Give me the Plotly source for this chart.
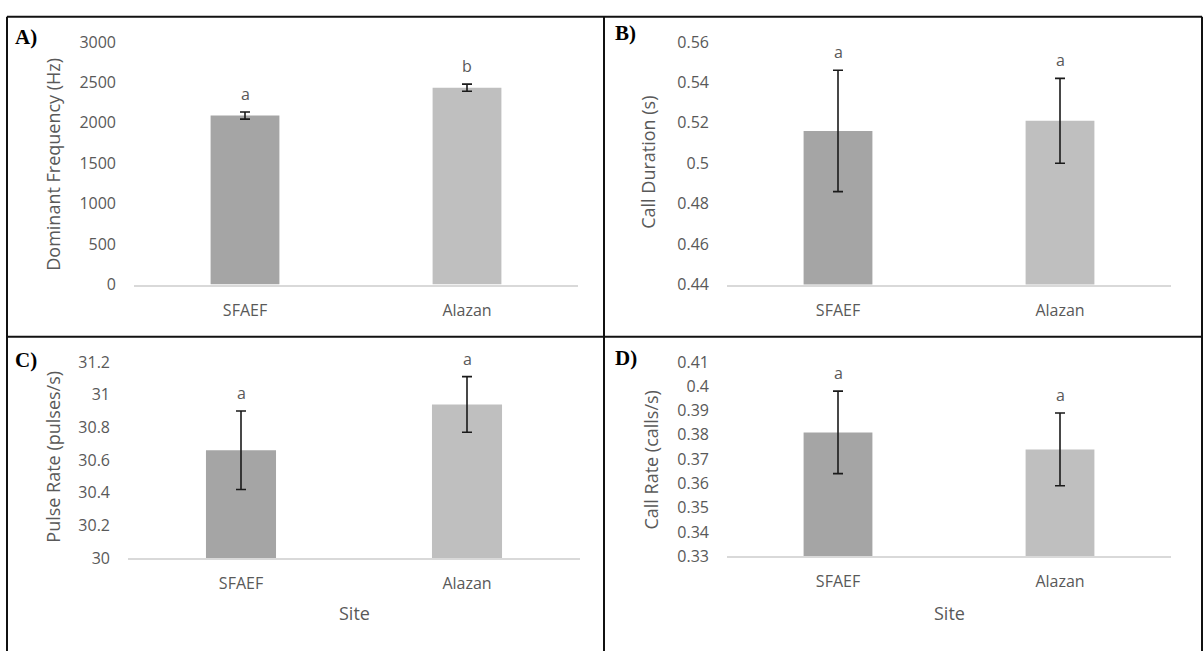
import plotly.graph_objects as go

W, H = 1204, 662

sites = ["SFAEF", "Alazan"]
bar_colors = ["#A5A5A5", "#BFBFBF"]

# Panel A: Dominant Frequency (Hz)
freq_mean = [2090, 2435]
freq_err = [44, 44]
freq_letters = ["a", "b"]
freq_ticks = [0, 500, 1000, 1500, 2000, 2500, 3000]
freq_ticktext = ["0", "500", "1000", "1500", "2000", "2500", "3000"]

# Panel B: Call Duration (s)
dur_mean = [0.516, 0.521]
dur_err = [0.030, 0.021]
dur_letters = ["a", "a"]
dur_ticks = [0.44, 0.46, 0.48, 0.50, 0.52, 0.54, 0.56]
dur_ticktext = ["0.44", "0.46", "0.48", "0.5", "0.52", "0.54", "0.56"]

# Panel C: Pulse Rate (pulses/s)
pulse_mean = [30.66, 30.94]
pulse_err = [0.24, 0.17]
pulse_letters = ["a", "a"]
pulse_ticks = [30.0, 30.2, 30.4, 30.6, 30.8, 31.0, 31.2]
pulse_ticktext = ["30", "30.2", "30.4", "30.6", "30.8", "31", "31.2"]

# Panel D: Call Rate (calls/s)
rate_mean = [0.381, 0.374]
rate_err = [0.017, 0.015]
rate_letters = ["a", "a"]
rate_ticks = [0.33, 0.34, 0.35, 0.36, 0.37, 0.38, 0.39, 0.40, 0.41]
rate_ticktext = ["0.33", "0.34", "0.35", "0.36", "0.37", "0.38", "0.39", "0.4", "0.41"]

panel_labels = ["A)", "B)", "C)", "D)"]
y_titles = ["Dominant Frequency (Hz)", "Call Duration (s)", "Pulse Rate (pulses/s)", "Call Rate (calls/s)"]
x_title = "Site"

TEXT = "#595959"
FONT = "Open Sans"


def px(x):
    return x / W


def py(y):
    return 1 - y / H


# plot-area pixel boxes (left, right, top, bottom)
boxes = [
    (134, 578, 32, 283),
    (727, 1171, 32, 283),
    (128, 580, 363, 566),
    (727, 1171, 363, 564),
]

panels = [
    (freq_mean, freq_err, freq_letters, freq_ticks, freq_ticktext),
    (dur_mean, dur_err, dur_letters, dur_ticks, dur_ticktext),
    (pulse_mean, pulse_err, pulse_letters, pulse_ticks, pulse_ticktext),
    (rate_mean, rate_err, rate_letters, rate_ticks, rate_ticktext),
]

fig = go.Figure()
annotations = []
layout_axes = {}

for i, (means, errs, letters, tv, tt) in enumerate(panels):
    n = i + 1
    xa = "x" if n == 1 else f"x{n}"
    ya = "y" if n == 1 else f"y{n}"
    fig.add_trace(go.Bar(
        x=sites, y=means,
        marker=dict(color=bar_colors, line=dict(width=0)),
        error_y=dict(type="data", array=errs, visible=True, color="#1a1a1a", thickness=1.6, width=5),
        xaxis=xa, yaxis=ya, showlegend=False,
    ))
    l, r, t, b = boxes[i]
    xkey = "xaxis" if n == 1 else f"xaxis{n}"
    ykey = "yaxis" if n == 1 else f"yaxis{n}"
    layout_axes[xkey] = dict(
        domain=[px(l), px(r)], anchor=ya, type="category",
        showline=True, linecolor="#D9D9D9", linewidth=1.5,
        showgrid=False, zeroline=False, ticks="",
        tickfont=dict(family=FONT, size=16, color=TEXT),
        ticklabelstandoff=10,
    )
    layout_axes[ykey] = dict(
        domain=[py(b), py(t)], anchor=xa,
        range=[tv[0], tv[-1]], tickvals=tv, ticktext=tt,
        showline=False, showgrid=False, zeroline=False, ticks="",
        tickfont=dict(family=FONT, size=16, color=TEXT),
        ticklabelstandoff=17,
    )
    for s, m, e, let in zip(sites, means, errs, letters):
        annotations.append(dict(
            x=s, y=m + e, xref=xa, yref=ya, text=let, showarrow=False,
            yanchor="bottom", yshift=5,
            font=dict(family=FONT, size=16, color=TEXT),
        ))

# y-axis titles
ytitle_pos = [(53, 158), (648, 157), (53, 461), (651, 464)]
for (x, y), txt in zip(ytitle_pos, y_titles):
    annotations.append(dict(
        x=px(x), y=py(y), xref="paper", yref="paper", text=txt, textangle=-90,
        showarrow=False, xanchor="center", yanchor="middle",
        font=dict(family=FONT, size=18, color=TEXT),
    ))

# x-axis titles (bottom row)
for x in [354, 949]:
    annotations.append(dict(
        x=px(x), y=py(623), xref="paper", yref="paper", text=x_title,
        showarrow=False, xanchor="center", yanchor="middle",
        font=dict(family=FONT, size=18, color=TEXT),
    ))

# panel labels
label_pos = [(13, 27), (613, 23), (13, 361), (613, 359)]
for (x, y), txt in zip(label_pos, panel_labels):
    annotations.append(dict(
        x=px(x), y=py(y), xref="paper", yref="paper", text=f"<b>{txt}</b>",
        showarrow=False, xanchor="left", yanchor="middle",
        font=dict(family="Liberation Serif", size=21, color="#000000"),
    ))

# panel borders (no bottom border: image is cropped there)
shapes = []
for xv in [7, 604, 1202]:
    shapes.append(dict(type="line", xref="paper", yref="paper",
                       x0=px(xv), x1=px(xv), y0=py(6), y1=0,
                       line=dict(color="#111111", width=2)))
for yv in [6, 337]:
    shapes.append(dict(type="line", xref="paper", yref="paper",
                       x0=px(7), x1=px(1202), y0=py(yv), y1=py(yv),
                       line=dict(color="#111111", width=2)))

fig.update_layout(
    width=W, height=H,
    margin=dict(l=0, r=0, t=0, b=0),
    paper_bgcolor="white", plot_bgcolor="white",
    bargap=0.69,
    annotations=annotations,
    shapes=shapes,
    **layout_axes,
)

fig.write_html(
    "out.html",
    config=dict(displayModeBar=False),
    post_script="document.body.style.margin='0';document.body.style.padding='0';document.body.style.overflow='hidden';",
)
